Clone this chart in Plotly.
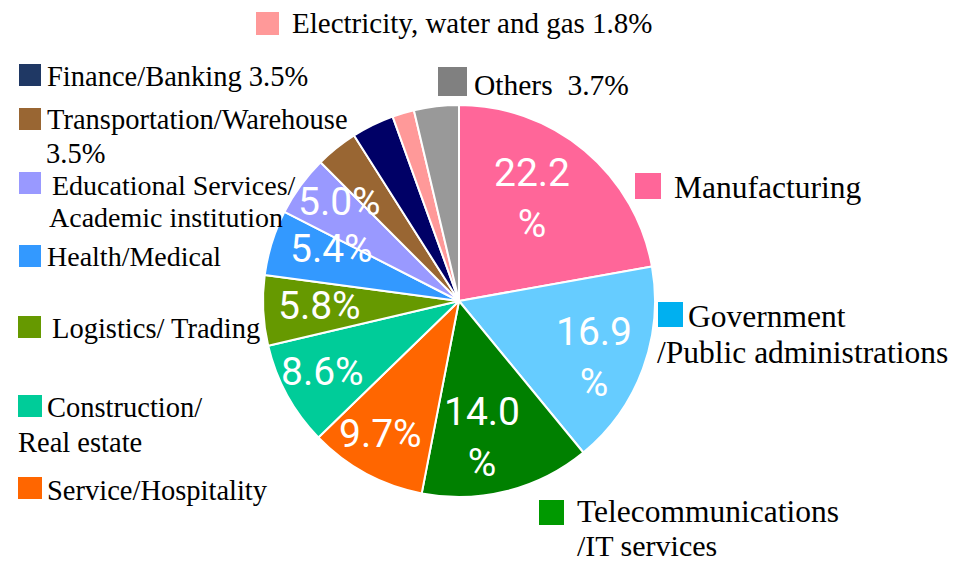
import plotly.graph_objects as go

# ---- data ----
categories = ["Manufacturing", "Government/Public administrations", "Telecommunications/IT services",
              "Service/Hospitality", "Construction/Real estate", "Logistics/ Trading", "Health/Medical",
              "Educational Services/Academic institution", "Transportation/Warehouse", "Finance/Banking",
              "Electricity, water and gas", "Others"]
values = [22.2, 16.9, 14.0, 9.7, 8.6, 5.8, 5.4, 5.0, 3.5, 3.5, 1.8, 3.7]
slice_labels = ["22.2<br>%", "16.9<br>%", "14.0<br>%", "9.7%", "8.6%", "5.8%", "5.4%", "5.0%"]

# ---- style ----
W, H = 953, 563
slice_colors = ["#FF6699", "#66CCFF", "#008000", "#FF6600", "#00CC99", "#669900", "#3399FF",
                "#9999FF", "#996633", "#000066", "#FF9999", "#999999"]
cx, cy, R = 459, 301, 196

def px(x):
    return x / W

def py(y):
    return 1 - y / H

fig = go.Figure(go.Pie(
    labels=categories, values=values, sort=False, direction="clockwise", rotation=0,
    marker=dict(colors=slice_colors, line=dict(color="white", width=2)),
    textinfo="none", hoverinfo="label+percent", showlegend=False,
    domain=dict(x=[px(cx - R), px(cx + R)], y=[py(cy + R), py(cy - R)]),
))

# inside value labels (pixel positions of label centres)
label_pos = [(532, 198), (594, 358), (482, 437), (380, 434), (322, 372), (319, 306), (331, 249), (339, 202)]
inner_font = dict(family="Liberation Sans Narrow, Roboto, sans-serif", size=39, color="white")
annotations = []
for txt, (x, y) in zip(slice_labels, label_pos):
    annotations.append(dict(x=px(x), y=py(y), xref="paper", yref="paper", text=txt, showarrow=False,
                            xanchor="center", yanchor="middle", font=inner_font, align="center"))

# legend-like labels: (text, x, y, size)
legend_texts = [
    ("Electricity, water and gas 1.8%", 290, 23, 29),
    ("Finance/Banking 3.5%", 45, 77, 28.5),
    ("Transportation/Warehouse", 45, 119, 28.5),
    ("3.5%", 44, 153, 28.5),
    ("Educational Services/", 50, 185, 28),
    ("Academic institution", 47, 217, 28),
    ("Health/Medical", 45, 256, 28),
    ("Logistics/ Trading", 50, 328, 28.5),
    ("Construction/", 45, 407, 28.5),
    ("Real estate", 16, 442, 28.5),
    ("Service/Hospitality", 45, 490, 28.5),
    ("Others\u00a0\u00a03.7%", 472, 85, 29.5),
    ("Manufacturing", 672, 187, 31.5),
    ("Government", 686, 316, 31.5),
    ("/Public administrations", 655, 352, 31.5),
    ("Telecommunications", 575, 511, 31.5),
    ("/IT services", 575, 545, 30),
]
for txt, x, y, s in legend_texts:
    annotations.append(dict(x=px(x), y=py(y), xref="paper", yref="paper", text=txt, showarrow=False,
                            xanchor="left", yanchor="middle",
                            font=dict(family="Liberation Serif, Times New Roman, serif", size=s, color="black")))

# legend squares: (color, x0, y0, x1, y1) in pixels
squares = [
    ("#FF9999", 256, 12, 279, 35),
    ("#1F3864", 19, 64, 41, 86),
    ("#996633", 19, 108, 41, 130),
    ("#9999FF", 19, 172, 41, 194),
    ("#3399FF", 19, 245, 41, 267),
    ("#669900", 18, 316, 41, 338),
    ("#00CC99", 18, 395, 42, 417),
    ("#FF6600", 18, 477, 42, 499),
    ("#808080", 438, 67, 467, 96),
    ("#FF6699", 635, 173, 661, 199),
    ("#00B0F0", 658, 302, 683, 327),
    ("#009900", 539, 500, 564, 525),
]
shapes = [dict(type="rect", xref="paper", yref="paper", x0=px(a), x1=px(c), y0=py(d), y1=py(b),
               fillcolor=col, line=dict(width=0)) for col, a, b, c, d in squares]

fig.update_layout(width=W, height=H, margin=dict(l=0, r=0, t=0, b=0),
                  paper_bgcolor="white", plot_bgcolor="white",
                  annotations=annotations, shapes=shapes)
fig.write_html("out.html", config={"displayModeBar": False},
               post_script="document.body.style.margin='0';document.body.style.overflow='hidden';")
